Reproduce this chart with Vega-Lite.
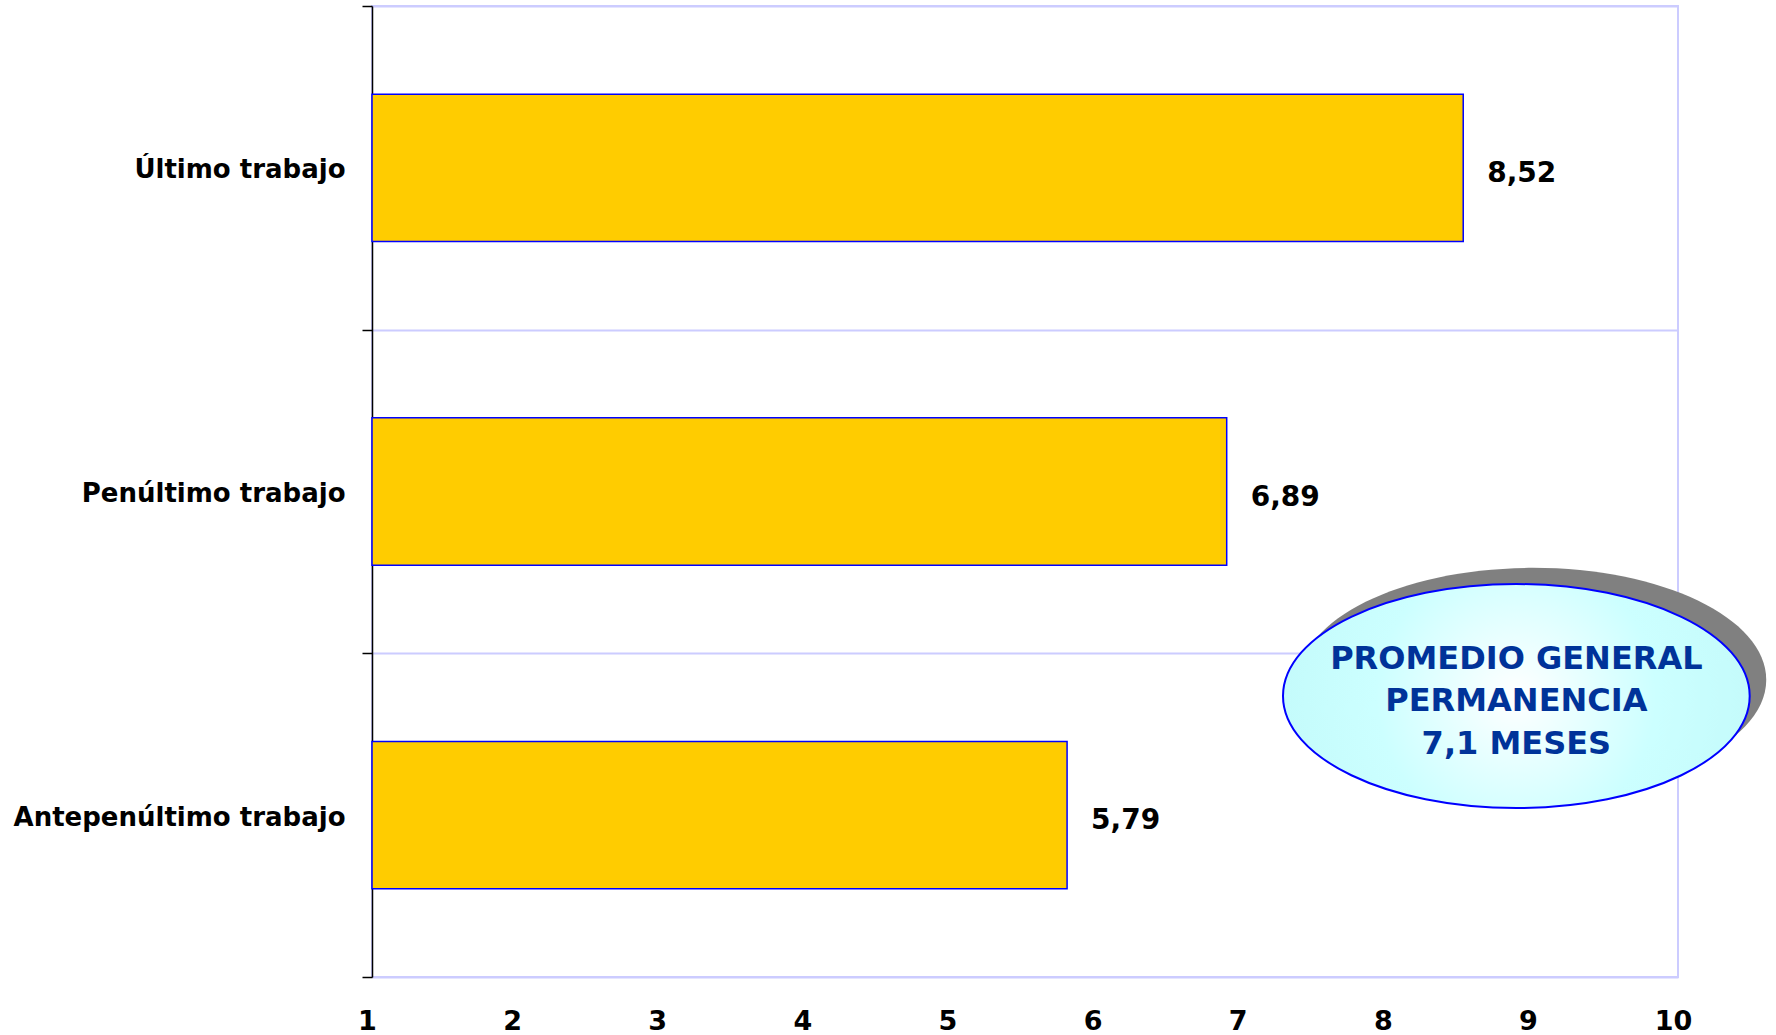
{
  "$schema": "https://vega.github.io/schema/vega-lite/v6.json",
  "width": 1306,
  "height": 971,
  "autosize": {"type": "none"},
  "padding": {"left": 372, "top": 6, "right": 98, "bottom": 58},
  "background": "#ffffff",
  "config": {
    "font": "DejaVu Sans",
    "view": {"stroke": "#ccccff", "strokeWidth": 2},
    "locale": {"number": {"decimal": ",", "thousands": ".", "grouping": [3], "currency": ["", " €"]}}
  },
  "datasets": {
    "main": [
      {"trabajo": "Último trabajo", "meses": 8.52},
      {"trabajo": "Penúltimo trabajo", "meses": 6.89},
      {"trabajo": "Antepenúltimo trabajo", "meses": 5.79}
    ],
    "shadow": [{"trabajo": "Antepenúltimo trabajo", "x": 9.0}],
    "note": [{"trabajo": "Antepenúltimo trabajo", "x": 8.886, "texto": "PROMEDIO GENERAL\nPERMANENCIA\n7,1 MESES"}]
  },
  "layer": [
    {
      "data": {"name": "main"},
      "mark": {"type": "bar", "fill": "#ffcc00", "stroke": "#0000ff", "strokeWidth": 1.5, "height": {"band": 0.455}},
      "encoding": {
        "y": {
          "field": "trabajo", "type": "nominal",
          "sort": ["Último trabajo", "Penúltimo trabajo", "Antepenúltimo trabajo"],
          "scale": {"paddingInner": 0, "paddingOuter": 0},
          "axis": {
            "title": null, "domainColor": "#000000", "domainWidth": 1.5,
            "tickColor": "#000000", "tickWidth": 1.5, "tickSize": 10, "tickBand": "extent",
            "grid": true, "gridColor": "#ccccff", "gridWidth": 2, "bandPosition": 0,
            "labelFont": "DejaVu Sans", "labelFontSize": 26, "labelFontWeight": "bold", "labelColor": "#000000",
            "labelPadding": 17, "labelLimit": 500, "labelOffset": 2
          }
        },
        "x": {
          "field": "meses", "type": "quantitative",
          "scale": {"domain": [1, 10], "zero": false, "nice": false},
          "axis": {
            "title": null, "domain": false, "ticks": false, "tickSize": 0, "grid": false,
            "values": [1, 2, 3, 4, 5, 6, 7, 8, 9, 10], "format": "d",
            "labelFont": "DejaVu Sans", "labelFontSize": 27, "labelFontWeight": "bold", "labelColor": "#000000",
            "labelPadding": 31, "labelOffset": -5, "labelFlush": false, "labelOverlap": false
          }
        },
        "x2": {"datum": 1}
      }
    },
    {
      "data": {"name": "main"},
      "mark": {"type": "text", "align": "left", "baseline": "middle", "dx": 24, "dy": 6, "fontSize": 28, "fontWeight": "bold", "color": "#000000"},
      "encoding": {
        "y": {"field": "trabajo", "type": "nominal", "sort": ["Último trabajo", "Penúltimo trabajo", "Antepenúltimo trabajo"]},
        "x": {"field": "meses", "type": "quantitative"},
        "text": {"field": "meses", "type": "quantitative", "format": ".2f"}
      }
    },
    {
      "data": {"name": "shadow"},
      "mark": {"type": "point", "shape": "M-1,0A1,0.48 0 1,0 1,0A1,0.48 0 1,0 -1,0Z", "size": 217800, "filled": true, "fill": "#808080", "stroke": null, "opacity": 1},
      "encoding": {
        "y": {"field": "trabajo", "type": "nominal", "bandPosition": 0.082, "sort": ["Último trabajo", "Penúltimo trabajo", "Antepenúltimo trabajo"]},
        "x": {"field": "x", "type": "quantitative"}
      }
    },
    {
      "data": {"name": "note"},
      "mark": {
        "type": "point", "shape": "M-1,0A1,0.48 0 1,0 1,0A1,0.48 0 1,0 -1,0Z", "size": 217800, "filled": true,
        "fill": {"gradient": "radial", "stops": [{"offset": 0, "color": "#ffffff"}, {"offset": 0.6, "color": "#ccffff"}, {"offset": 1, "color": "#c4fbfb"}]},
        "stroke": "#0000ff", "strokeWidth": 2, "opacity": 1, "fillOpacity": 1, "strokeOpacity": 1
      },
      "encoding": {
        "y": {"field": "trabajo", "type": "nominal", "bandPosition": 0.132, "sort": ["Último trabajo", "Penúltimo trabajo", "Antepenúltimo trabajo"]},
        "x": {"field": "x", "type": "quantitative"}
      }
    },
    {
      "data": {"name": "note"},
      "mark": {"type": "text", "align": "center", "baseline": "middle", "lineBreak": "\n", "lineHeight": 42.5, "fontSize": 32, "fontWeight": "bold", "color": "#003399"},
      "encoding": {
        "y": {"field": "trabajo", "type": "nominal", "bandPosition": 0.017, "sort": ["Último trabajo", "Penúltimo trabajo", "Antepenúltimo trabajo"]},
        "x": {"field": "x", "type": "quantitative"},
        "text": {"field": "texto"}
      }
    }
  ]
}
